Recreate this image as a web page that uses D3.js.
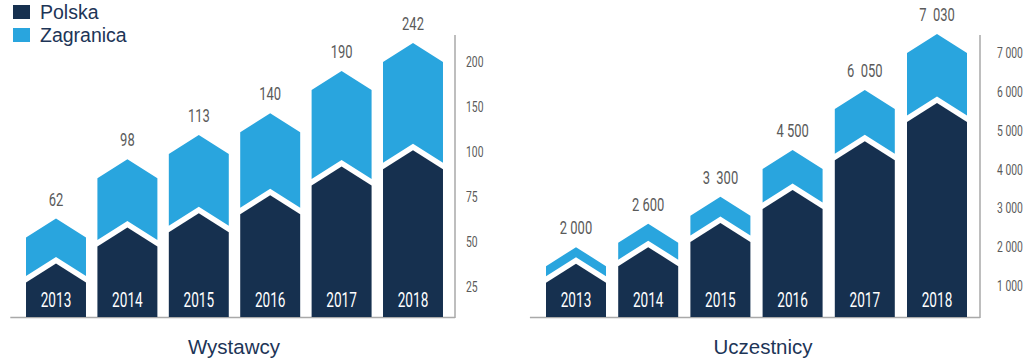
<!DOCTYPE html>
<html>
<head>
<meta charset="UTF-8">
<title>Wystawcy i Uczestnicy 2013-2018</title>
<script src="https://d3js.org/d3.v7.min.js"></script>
<style>
  body { margin: 0; background: #fff; }
  .narrow { font-family: Roboto, "Liberation Sans", sans-serif; }
</style>
</head>
<body>
<svg id="chart"></svg>
<script>
// data
const years = ["2013", "2014", "2015", "2016", "2017", "2018"];

const exhibitorsPolska = [38, 58, 66, 76, 92, 102];
const exhibitorsAbroad = [25, 38, 53, 67, 98, 119];
const exhibitorsLabels = ["62", "98", "113", "140", "190", "242"];
const exhibitorsTicks = [25, 50, 75, 100, 150, 200];

const participantsPolska = [1570, 2000, 2620, 3470, 4730, 5710];
const participantsAbroad = [430, 600, 680, 1030, 1320, 1780];
const participantsLabels = ["2 000", "2 600", "3  300", "4 500", "6  050", "7  030"];
const participantsTicks = [1000, 2000, 3000, 4000, 5000, 6000, 7000];

const width = 1024, height = 361;
const base = 317;       // baseline of both panels
const axisTop = 35;
const drop = 19;        // peak to shoulder of the chevron
const gap = 6.5;        // white stripe between the two parts
const navy = "#16304f", sky = "#29a5de";

const svg = d3.select("#chart").attr("width", width).attr("height", height);

const plFormat = d3.formatLocale({decimal: ",", thousands: " ", grouping: [3], currency: ["", " zł"]}).format(",");

// squeeze text horizontally to mimic the condensed face of the original
function condense(sel, sx) {
  sel.each(function () {
    const t = d3.select(this);
    const x = +t.attr("x") || 0, y = +t.attr("y") || 0;
    t.attr("x", 0).attr("y", 0).attr("transform", `translate(${x},${y}) scale(${sx},1)`);
  });
}

// the value axis is evenly spaced between uneven ticks, so a polylinear scale
function makeY(ticks, firstGap, step) {
  const dom = [0].concat(ticks);
  const rng = dom.map((d, i) => i === 0 ? base : base - firstGap - (i - 1) * step);
  return d3.scaleLinear().domain(dom).range(rng);
}

function panel(opts) {
  const g = svg.append("g");
  const x = d3.scaleBand().domain(years).range(opts.xRange)
    .paddingInner(opts.pad).paddingOuter(opts.pad / 2);
  const y = opts.y;
  const w = x.bandwidth();

  const rows = years.map((yr, i) => ({
    year: yr, pl: opts.pl[i], ab: opts.ab[i], label: opts.labels[i]
  }));

  // baseline + vertical axis line
  g.append("line")
    .attr("x1", opts.xRange[0] - 10).attr("x2", opts.axisX)
    .attr("y1", base + 0.5).attr("y2", base + 0.5)
    .attr("stroke", "#a9a9a9").attr("stroke-width", 1.5);
  g.append("line")
    .attr("x1", opts.axisX).attr("x2", opts.axisX)
    .attr("y1", axisTop).attr("y2", base + 1)
    .attr("stroke", "#a9a9a9").attr("stroke-width", 1.5);

  const bar = g.selectAll("g.bar").data(rows).enter().append("g").attr("class", "bar");

  // lower (Polska) pentagon
  bar.append("path")
    .attr("fill", navy)
    .attr("d", d => {
      const x0 = x(d.year), x1 = x0 + w, cx = x0 + w / 2, yt = y(d.pl);
      return `M${x0},${base}L${x0},${yt + drop}L${cx},${yt}L${x1},${yt + drop}L${x1},${base}Z`;
    });

  // upper (Zagranica) chevron band
  bar.append("path")
    .attr("fill", sky)
    .attr("d", d => {
      const x0 = x(d.year), x1 = x0 + w, cx = x0 + w / 2;
      const yt = y(d.pl + d.ab), yb = y(d.pl) - gap;
      return `M${x0},${yt + drop}L${cx},${yt}L${x1},${yt + drop}L${x1},${yb + drop}L${cx},${yb}L${x0},${yb + drop}Z`;
    });

  // year inside the bar
  bar.append("text")
    .attr("class", "narrow")
    .attr("x", d => x(d.year) + w / 2)
    .attr("y", 307)
    .attr("text-anchor", "middle")
    .attr("fill", "#fff")
    .style("font-size", "20px")
    .text(d => d.year)
    .call(condense, 0.68);

  // total above the bar
  bar.append("text")
    .attr("class", "narrow")
    .attr("x", d => x(d.year) + w / 2)
    .attr("y", d => y(d.pl + d.ab) - 13)
    .attr("text-anchor", "middle")
    .attr("fill", "#5a5a5a")
    .style("font-size", "18px")
    .style("white-space", "pre")
    .text(d => d.label)
    .call(condense, 0.72);

  // tick labels
  const axis = g.append("g")
    .attr("transform", `translate(${opts.axisX},0)`)
    .call(d3.axisRight(y).tickValues(opts.ticks).tickSize(0).tickPadding(opts.tickPad)
      .tickFormat(opts.fmt));
  axis.select(".domain").remove();
  axis.selectAll("text")
    .attr("class", "narrow")
    .attr("fill", "#5a5a5a")
    .style("font-size", "14px")
    .call(condense, 0.74);

  // panel title
  g.append("text")
    .attr("x", opts.titleX).attr("y", 354)
    .attr("text-anchor", "middle")
    .attr("fill", "#1d3557")
    .style("font-family", "'Liberation Sans', Arial, sans-serif")
    .style("font-size", "20.5px")
    .text(opts.title);
}

panel({
  xRange: [20.3, 448.7], pad: 0.16, axisX: 455, tickPad: 11,
  y: makeY(exhibitorsTicks, 30, 45),
  pl: exhibitorsPolska, ab: exhibitorsAbroad, labels: exhibitorsLabels,
  ticks: exhibitorsTicks, fmt: d3.format("d"),
  title: "Wystawcy", titleX: 234
});

panel({
  xRange: [539.9, 973.1], pad: 0.169, axisX: 980, tickPad: 17,
  y: makeY(participantsTicks, 31, 38.83),
  pl: participantsPolska, ab: participantsAbroad, labels: participantsLabels,
  ticks: participantsTicks, fmt: plFormat,
  title: "Uczestnicy", titleX: 763
});

// legend
const legendNames = ["Polska", "Zagranica"];
const legendColors = [navy, sky];
const legend = svg.append("g").selectAll("g").data(legendNames).enter().append("g")
  .attr("transform", (d, i) => `translate(13,${5 + i * 23})`);
legend.append("rect")
  .attr("width", 17).attr("height", 14)
  .attr("fill", (d, i) => legendColors[i]);
legend.append("text")
  .attr("x", 27).attr("y", 13.5)
  .attr("fill", "#1d3557")
  .style("font-family", "'Liberation Sans', Arial, sans-serif")
  .style("font-size", "19.5px")
  .text(d => d);
</script>
</body>
</html>
